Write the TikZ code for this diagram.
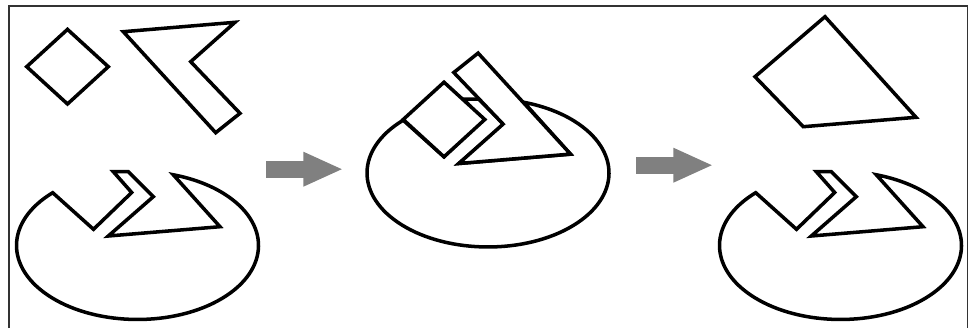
\documentclass[tikz,border=0pt]{standalone}
\usepackage{tikz}
\usetikzlibrary{arrows.meta}
\tikzset{
    puzzle piece/.style={
        draw=black,
        fill=white,
        line width=2pt,
        line join=miter
    },
    puzzle arrow/.style={draw=black!50, line width=0.332cm, -{Triangle[length=0.8cm,width=0.634cm]}},
    puzzle frame/.style={draw=black!80, line width=1pt}
}

\begin{document}
\begin{tikzpicture}[x=0.02cm,y=-0.02cm]
    \useasboundingbox (0,0) rectangle (976,328);
    \draw[puzzle frame] (8.7,328) |- (967.5,5.7) -- (967.5,328);

    % the disc with the cut, before / during / after
    \foreach \dx/\dy in {0/0, 350.5/-72.5, 703/0} {
        \begin{scope}[shift={(\dx,\dy)}]
            \draw[puzzle piece] (52.7,192.7)
                arc[start angle=225.5, end angle=-72.8, x radius=121, y radius=74]
                -- (220,226.7) -- (108.3,236) -- (153.3,196.7) -- (128.3,171.7)
                -- (113.3,171.7) -- (131.7,192.5) -- (93.5,229.3) -- cycle;
        \end{scope}
    }

    % loose pieces
    \draw[puzzle piece] (26.7,66.7) -- (67.5,29.4) -- (108.3,66.7) -- (67.5,104) -- cycle;
    \draw[puzzle piece] (123.3,31.7) -- (235,22.3) -- (190.7,61.7) -- (240,113.3) -- (215.7,132.7) -- cycle;

    % pieces put into the cut
    \draw[puzzle piece] (403.2,119.5) -- (444,82.2) -- (484.8,119.5) -- (444,156.8) -- cycle;
    \draw[puzzle piece] (570.5,154.1) -- (458.8,163.5) -- (503.1,124.1) -- (453.8,72.5) -- (478.1,53.1) -- cycle;

    % merged piece
    \draw[puzzle piece] (825,16.7) -- (916,117.3) -- (803.3,126.7) -- (755,76.7) -- cycle;

    \coordinate (step one tail) at (266,169.2);
    \coordinate (step one head) at (343.3,169.2);
    \coordinate (step two tail) at (636,165.2);
    \coordinate (step two head) at (713.3,165.2);
    \draw[puzzle arrow] (step one tail) -- (step one head);
    \draw[puzzle arrow] (step two tail) -- (step two head);
\end{tikzpicture}
\end{document}
